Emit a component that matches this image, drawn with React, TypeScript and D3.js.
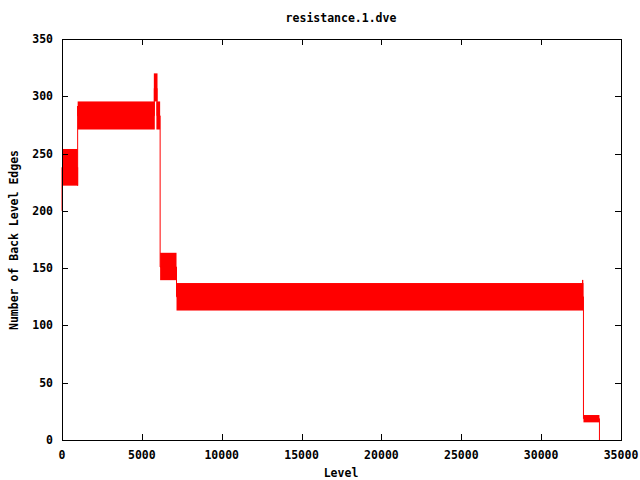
import React from "react";
import * as d3 from "d3";

// Oscillating regions drawn as filled bands (level range, low/high value)
const bandStart = [0, 980, 5750, 5910, 6144, 7170, 32650];
const bandEnd = [980, 5810, 5980, 6144, 7170, 32650, 33650];
const bandLow = [222, 271, 295.5, 271, 139.5, 113, 15.4];
const bandHigh = [254, 295.5, 320, 295.5, 163.4, 137, 21.8];

// Connecting trace
const traceLevel = [0, 0, 980, 980, 980, 980, 5780, 5780, 5950, 5950, 6144, 6144, 7170, 7170, 32600, 32600, 32600, 32650, 32650, 33650, 33650];
const traceValue = [200, 238, 238, 222, 291.5, 283, 283, 307, 307, 283, 283, 151, 151, 125, 125, 139.7, 125, 125, 18.6, 18.6, 0];

const xTicks = [0, 5000, 10000, 15000, 20000, 25000, 30000, 35000];
const yTicks = [0, 50, 100, 150, 200, 250, 300, 350];

const W = 640, H = 480;
const left = 62, right = 621, top = 39, bottom = 440;
const FONT = "'DejaVu Sans Mono', monospace";

export default function App() {
  const x = d3.scaleLinear().domain([0, 35000]).range([left, right]);
  const y = d3.scaleLinear().domain([0, 350]).range([bottom, top]);
  const line = d3.line<number>().x((i) => x(traceLevel[i])).y((i) => y(traceValue[i]));
  const idx = traceLevel.map((_, i) => i);
  const red = "#ff0000";
  const tl = 6;
  return (
    <svg width={W} height={H} style={{ position: "absolute", left: 0, top: 0, background: "#fff" }}
      fontFamily={FONT} fontWeight="bold" fontSize={11.5}>
      <rect x={0} y={0} width={W} height={H} fill="#fff" />
      {bandStart.map((s, i) => (
        <rect key={i} x={x(s)} y={y(bandHigh[i])} width={x(bandEnd[i]) - x(s)}
          height={y(bandLow[i]) - y(bandHigh[i])} fill={red} />
      ))}
      <path d={line(idx) || ""} fill="none" stroke={red} strokeWidth={1} />
      {xTicks.map((t) => (
        <g key={"x" + t}>
          <line x1={Math.round(x(t)) + 0.5} x2={Math.round(x(t)) + 0.5} y1={bottom} y2={bottom - tl} stroke="#000" />
          <line x1={Math.round(x(t)) + 0.5} x2={Math.round(x(t)) + 0.5} y1={top} y2={top + tl} stroke="#000" />
          <text x={x(t)} y={459} textAnchor="middle">{t}</text>
        </g>
      ))}
      {yTicks.map((t) => (
        <g key={"y" + t}>
          <line x1={left} x2={left + tl} y1={Math.round(y(t)) + 0.5} y2={Math.round(y(t)) + 0.5} stroke="#000" />
          <line x1={right} x2={right - tl} y1={Math.round(y(t)) + 0.5} y2={Math.round(y(t)) + 0.5} stroke="#000" />
          <text x={53} y={y(t) + 4} textAnchor="end">{t}</text>
        </g>
      ))}
      <rect x={left + 0.5} y={top + 0.5} width={right - left} height={bottom - top} fill="none" stroke="#000" />
      <text x={341} y={22} textAnchor="middle">resistance.1.dve</text>
      <text x={341} y={477} textAnchor="middle">Level</text>
      <text transform="translate(18,240) rotate(-90)" textAnchor="middle">Number of Back Level Edges</text>
    </svg>
  );
}
